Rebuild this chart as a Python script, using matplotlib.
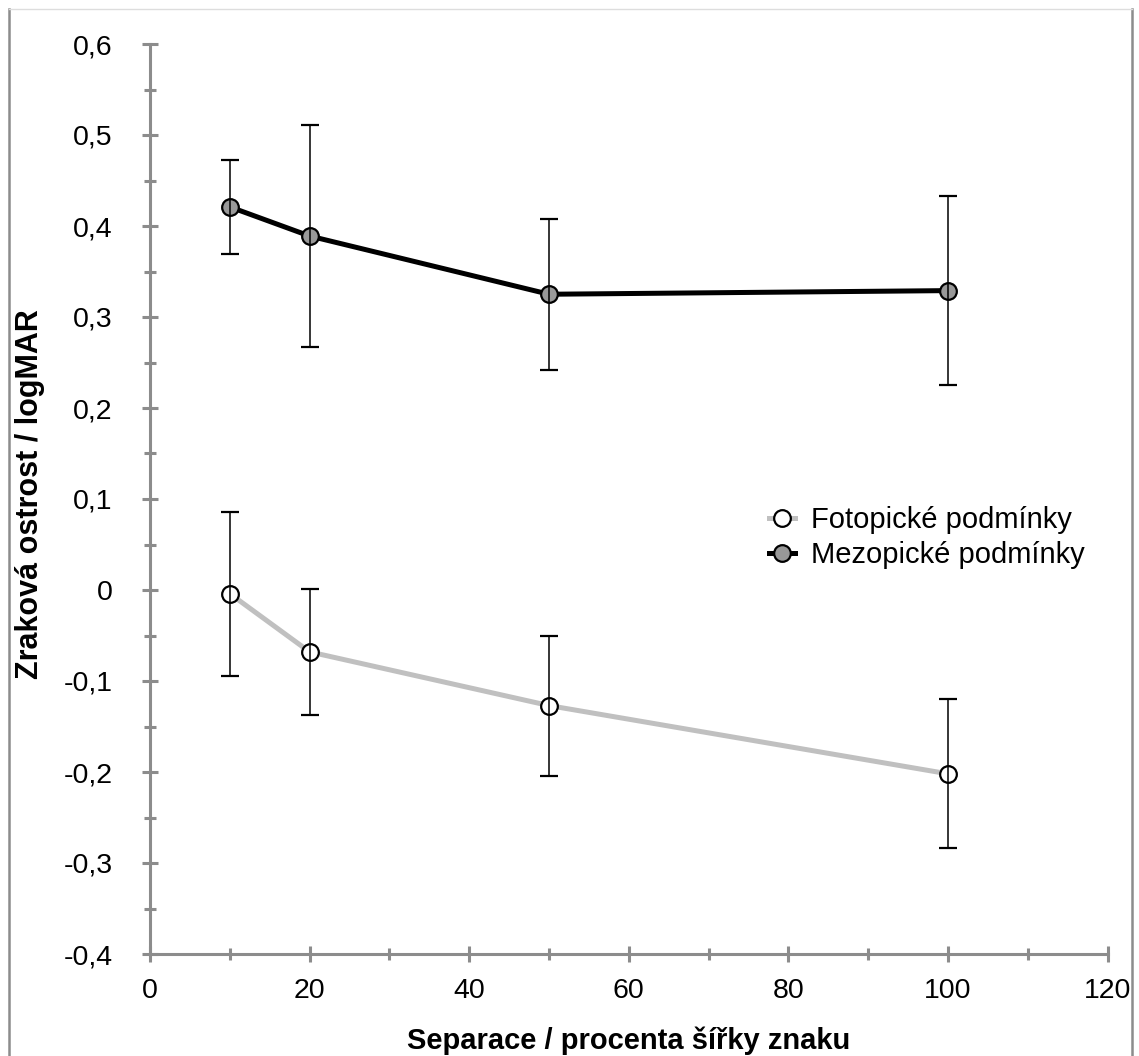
import matplotlib
matplotlib.use("Agg")
import matplotlib.pyplot as plt
from matplotlib.lines import Line2D
from matplotlib.ticker import MultipleLocator

plt.rcParams['font.family'] = ['Liberation Sans', 'DejaVu Sans']

# Data
separation = [10, 20, 50, 100]
fotopicke = [-0.004, -0.068, -0.127, -0.202]
fotopicke_err = [0.090, 0.069, 0.077, 0.082]
mezopicke = [0.421, 0.389, 0.325, 0.329]
mezopicke_err = [0.052, 0.122, 0.083, 0.104]
series_labels = ["Fotopické podmínky", "Mezopické podmínky"]
xticks = [0, 20, 40, 60, 80, 100, 120]
yticks = [-0.4, -0.3, -0.2, -0.1, 0.0, 0.1, 0.2, 0.3, 0.4, 0.5, 0.6]
ytick_labels = ["-0,4", "-0,3", "-0,2", "-0,1", "0", "0,1", "0,2", "0,3", "0,4", "0,5", "0,6"]
xlabel = "Separace / procenta šířky znaku"
ylabel = "Zraková ostrost / logMAR"

W, H = 1139, 1056
fig = plt.figure(figsize=(W / 100, H / 100), dpi=100)
ax = fig.add_axes([150 / W, 1 - 954 / H, (1107.6 - 150) / W, (954 - 44) / H])

axis_gray = '#8c8c8c'

# Lines
ax.plot(separation, fotopicke, color='#c0c0c0', lw=3.6, zorder=2, solid_capstyle='butt')
ax.plot(separation, mezopicke, color='black', lw=3.6, zorder=2, solid_capstyle='butt')
# Markers
ax.plot(separation, fotopicke, ls='none', marker='o', ms=12, mfc='white', mec='black', mew=1.6, zorder=3)
ax.plot(separation, mezopicke, ls='none', marker='o', ms=12, mfc='#999999', mec='black', mew=1.6, zorder=3)
# Error bars
ax.errorbar(separation, fotopicke, yerr=fotopicke_err, fmt='none', ecolor='black', elinewidth=1.1,
            capsize=6.5, capthick=1.6, zorder=4)
ax.errorbar(separation, mezopicke, yerr=mezopicke_err, fmt='none', ecolor='black', elinewidth=1.1,
            capsize=6.5, capthick=1.6, zorder=4)

ax.set_xlim(0, 120)
ax.set_ylim(-0.4, 0.6)
ax.set_xticks(xticks)
ax.set_xticklabels([str(v) for v in xticks])
ax.set_yticks(yticks)
ax.set_yticklabels(ytick_labels)
ax.xaxis.set_minor_locator(MultipleLocator(10))
ax.yaxis.set_minor_locator(MultipleLocator(0.05))

for s in ['top', 'right']:
    ax.spines[s].set_visible(False)
for s in ['left', 'bottom']:
    ax.spines[s].set_color(axis_gray)
    ax.spines[s].set_linewidth(2.2)

ax.tick_params(axis='both', which='major', direction='inout', length=12, width=2.2, color=axis_gray,
               labelsize=20.5)
ax.tick_params(axis='both', which='minor', direction='inout', length=8, width=2.2, color=axis_gray)
ax.tick_params(axis='y', which='major', pad=21)
ax.tick_params(axis='x', which='major', pad=11)

ax.set_xlabel(xlabel, fontsize=21, fontweight='bold')
ax.set_ylabel(ylabel, fontsize=22, fontweight='bold')
ax.xaxis.set_label_coords(0.5, -(1049 - 954) / 910, transform=ax.transAxes)
ax.xaxis.label.set_va('baseline')
ax.yaxis.set_label_coords(-(150 - 30) / 957.6, (954 - 494) / 910, transform=ax.transAxes)
ax.yaxis.label.set_va('center')

handles = [
    Line2D([], [], color='#c0c0c0', lw=3.6, marker='o', ms=12, mfc='white', mec='black', mew=1.6),
    Line2D([], [], color='black', lw=3.6, marker='o', ms=12, mfc='#999999', mec='black', mew=1.6),
]
ax.legend(handles, series_labels, loc='upper left', bbox_to_anchor=(769 / W, 1 - 506 / H),
          bbox_transform=fig.transFigure, frameon=False, fontsize=21, handlelength=0.9,
          handletextpad=0.55, labelspacing=0.25, borderpad=0, borderaxespad=0)

# Chart area frame
fig.add_artist(Line2D([9 / W, 9 / W], [1 - 9 / H, 0], transform=fig.transFigure, color='#8c8c8c', lw=1.8))
fig.add_artist(Line2D([1131.5 / W, 1131.5 / W], [1 - 9 / H, 0], transform=fig.transFigure, color='#8c8c8c', lw=1.8))
fig.add_artist(Line2D([9 / W, 1131.5 / W], [1 - 9 / H, 1 - 9 / H], transform=fig.transFigure, color='#dddddd', lw=1))

fig.savefig('out.png', dpi=100)
